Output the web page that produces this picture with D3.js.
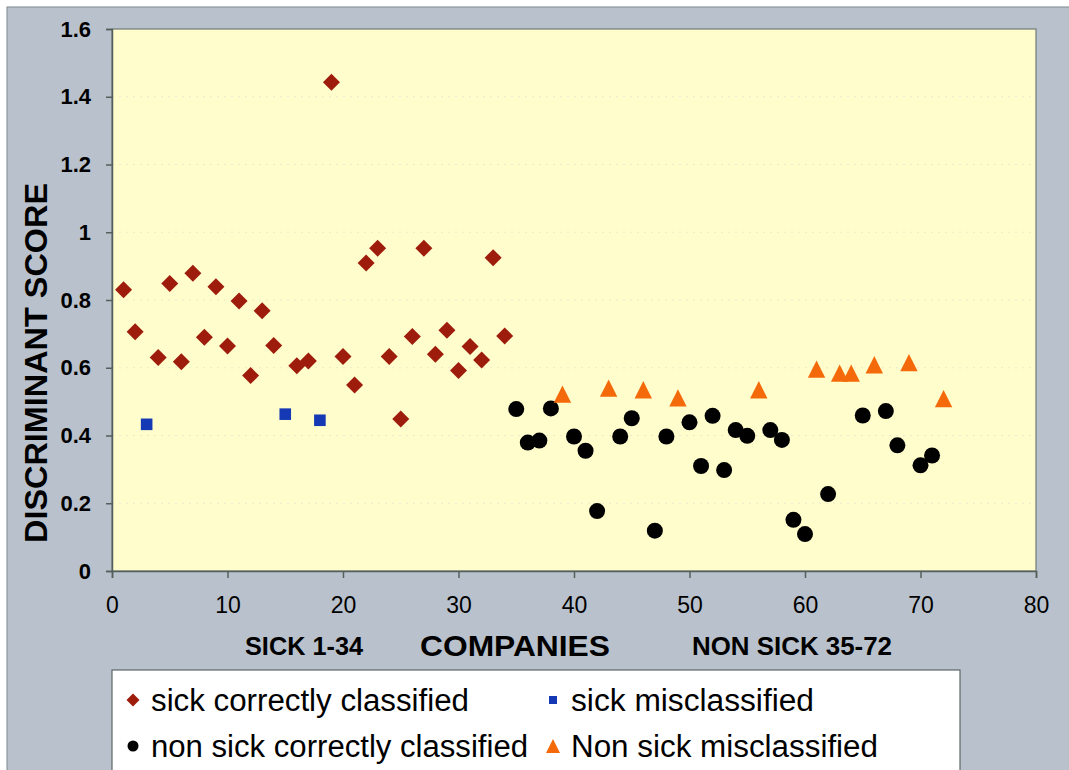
<!DOCTYPE html>
<html>
<head>
<meta charset="utf-8">
<script src="https://cdn.jsdelivr.net/npm/d3@7"></script>
<style>
  body { margin: 0; background: #ffffff; }
  text { font-family: "Liberation Sans", Arial, sans-serif; fill: #000; }
</style>
</head>
<body>
<div id="chart"></div>
<script>
var width = 1069,
    height = 770;

// sick companies 1-34
var sickCorrectCompany = [1, 2, 4, 5, 6, 7, 8, 9, 10, 11, 12, 13, 14, 16, 17, 19, 20,
                          21, 22, 23, 24, 25, 26, 27, 28, 29, 30, 31, 32, 33, 34];
var sickCorrectScore   = [0.830, 0.706, 0.630, 0.849, 0.618, 0.879, 0.690, 0.839, 0.664,
                          0.797, 0.577, 0.768, 0.666, 0.606, 0.620, 1.443, 0.633, 0.549,
                          0.909, 0.953, 0.633, 0.449, 0.692, 0.953, 0.640, 0.711, 0.592,
                          0.663, 0.623, 0.925, 0.694];
var sickMissCompany = [3, 15, 18];
var sickMissScore   = [0.433, 0.463, 0.445];

// non sick companies 35-72
var nonSickCorrectCompany = [35, 36, 37, 38, 40, 41, 42, 44, 45, 47, 48, 50, 51, 52, 53, 54,
                             55, 57, 58, 59, 60, 62, 65, 67, 68, 70, 71];
var nonSickCorrectScore   = [0.478, 0.379, 0.385, 0.480, 0.397, 0.355, 0.177, 0.397, 0.451,
                             0.119, 0.397, 0.439, 0.310, 0.458, 0.298, 0.416, 0.399, 0.416,
                             0.387, 0.151, 0.109, 0.227, 0.459, 0.472, 0.371, 0.312, 0.341];
var nonSickMissCompany = [39, 43, 46, 49, 56, 61, 63, 64, 66, 69, 72];
var nonSickMissScore   = [0.522, 0.540, 0.535, 0.511, 0.535, 0.596, 0.584, 0.584, 0.609,
                          0.615, 0.509];

var xTicks = [0, 10, 20, 30, 40, 50, 60, 70, 80];
var yTicks = [0, 0.2, 0.4, 0.6, 0.8, 1, 1.2, 1.4, 1.6];

var legendLabels = ["sick correctly classified", "sick misclassified",
                    "non sick correctly classified", "Non sick misclassified"];

var svg = d3.select("#chart").append("svg")
    .attr("width", width)
    .attr("height", height);

// grey frame
svg.append("rect")
    .attr("x", 7).attr("y", 7)
    .attr("width", width).attr("height", height)
    .attr("fill", "#b9c2cc")
    .attr("stroke", "#7d8890")
    .attr("stroke-width", 1);

var xScale = d3.scaleLinear().domain([0, 80]).range([112, 1036]);
var yScale = d3.scaleLinear().domain([0, 1.6]).range([571, 29]);

// plot area
svg.append("rect")
    .attr("x", xScale(0)).attr("y", yScale(1.6))
    .attr("width", xScale(80) - xScale(0))
    .attr("height", yScale(0) - yScale(1.6))
    .attr("fill", "#fffdcc")
    .attr("stroke", "#6f7a78")
    .attr("stroke-width", 1.2);

// faint grid lines
svg.append("g").selectAll("line")
  .data(yTicks.slice(1, -1))
  .enter().append("line")
    .attr("x1", xScale(0)).attr("x2", xScale(80))
    .attr("y1", function(d) { return yScale(d); })
    .attr("y2", function(d) { return yScale(d); })
    .attr("stroke", "#ebe9cc")
    .attr("stroke-dasharray", "2,5");

var xAxis = svg.append("g")
    .attr("transform", "translate(0," + yScale(0) + ")")
    .call(d3.axisBottom(xScale).tickValues(xTicks).tickSize(7).tickPadding(19).tickFormat(d3.format("d")));

var yAxis = svg.append("g")
    .attr("transform", "translate(" + xScale(0) + ",0)")
    .call(d3.axisLeft(yScale).tickValues(yTicks).tickSize(6).tickPadding(15)
      .tickFormat(function(d) { return d === 0 || d === 1 ? String(d) : d.toFixed(1); }));

[xAxis, yAxis].forEach(function(ax) {
  ax.select(".domain").attr("stroke", "#555f5c").attr("stroke-width", 1.5);
  ax.selectAll(".tick line").attr("stroke", "#555f5c").attr("stroke-width", 1.5);
});
xAxis.selectAll(".tick text")
    .style("font-size", "23px")
    .style("font-family", "Liberation Sans, Arial, sans-serif")
    .attr("fill", "#000");
yAxis.selectAll(".tick text")
    .style("font-size", "22px")
    .style("font-weight", "bold")
    .style("font-family", "Liberation Sans, Arial, sans-serif")
    .attr("fill", "#111");

// axis titles
svg.append("text")
    .attr("transform", "translate(47,363) rotate(-90)")
    .attr("text-anchor", "middle")
    .attr("textLength", 360)
    .attr("lengthAdjust", "spacingAndGlyphs")
    .style("font-size", "31px")
    .style("font-weight", "bold")
    .text("DISCRIMINANT SCORE");

svg.append("text")
    .attr("x", 304).attr("y", 655)
    .attr("text-anchor", "middle")
    .attr("textLength", 118)
    .attr("lengthAdjust", "spacingAndGlyphs")
    .style("font-size", "25px")
    .style("font-weight", "bold")
    .text("SICK 1-34");

svg.append("text")
    .attr("x", 515).attr("y", 656)
    .attr("text-anchor", "middle")
    .attr("textLength", 190)
    .attr("lengthAdjust", "spacingAndGlyphs")
    .style("font-size", "30px")
    .style("font-weight", "bold")
    .text("COMPANIES");

svg.append("text")
    .attr("x", 792).attr("y", 655)
    .attr("text-anchor", "middle")
    .attr("textLength", 200)
    .attr("lengthAdjust", "spacingAndGlyphs")
    .style("font-size", "25px")
    .style("font-weight", "bold")
    .text("NON SICK 35-72");

// marker shapes
function diamond(s) { return "M0," + (-s) + "L" + s + ",0L0," + s + "L" + (-s) + ",0Z"; }
function square(s) { return "M" + (-s) + "," + (-s) + "h" + (2 * s) + "v" + (2 * s) + "h" + (-2 * s) + "Z"; }
function triangle(s) { return "M0," + (-s) + "L" + s + "," + s + "L" + (-s) + "," + s + "Z"; }

function zip(xs, ys) { return xs.map(function(x, i) { return [x, ys[i]]; }); }

var marks = svg.append("g");

marks.selectAll(".sick-ok")
  .data(zip(sickCorrectCompany, sickCorrectScore))
  .enter().append("path")
    .attr("class", "sick-ok")
    .attr("d", diamond(8.5))
    .attr("transform", function(d) { return "translate(" + xScale(d[0]) + "," + yScale(d[1]) + ")"; })
    .attr("fill", "#9e1c0c");

marks.selectAll(".sick-miss")
  .data(zip(sickMissCompany, sickMissScore))
  .enter().append("path")
    .attr("class", "sick-miss")
    .attr("d", square(5.8))
    .attr("transform", function(d) { return "translate(" + xScale(d[0]) + "," + yScale(d[1]) + ")"; })
    .attr("fill", "#1539b5");

marks.selectAll(".nonsick-ok")
  .data(zip(nonSickCorrectCompany, nonSickCorrectScore))
  .enter().append("circle")
    .attr("class", "nonsick-ok")
    .attr("cx", function(d) { return xScale(d[0]); })
    .attr("cy", function(d) { return yScale(d[1]); })
    .attr("r", 8)
    .attr("fill", "#000");

marks.selectAll(".nonsick-miss")
  .data(zip(nonSickMissCompany, nonSickMissScore))
  .enter().append("path")
    .attr("class", "nonsick-miss")
    .attr("d", triangle(8.7))
    .attr("transform", function(d) { return "translate(" + xScale(d[0]) + "," + yScale(d[1]) + ")"; })
    .attr("fill", "#f46a0a");

// legend
var legend = svg.append("g");
legend.append("rect")
    .attr("x", 112).attr("y", 670)
    .attr("width", 848).attr("height", 110)
    .attr("fill", "#ffffff")
    .attr("stroke", "#5d6866")
    .attr("stroke-width", 1.2);

var legendItems = [
  {label: legendLabels[0], x: 133, y: 700, len: 318, mark: "diamond", color: "#9e1c0c"},
  {label: legendLabels[1], x: 553, y: 700, len: 243, mark: "square", color: "#1539b5"},
  {label: legendLabels[2], x: 133, y: 746, len: 377, mark: "circle", color: "#000"},
  {label: legendLabels[3], x: 553, y: 746, len: 307, mark: "triangle", color: "#f46a0a"}
];

legendItems.forEach(function(item) {
  var g = legend.append("g").attr("transform", "translate(" + item.x + "," + item.y + ")");
  if (item.mark === "circle") {
    g.append("circle").attr("r", 5.5).attr("fill", item.color);
  } else {
    var d = item.mark === "diamond" ? diamond(6.5) : item.mark === "square" ? square(4) : triangle(7);
    g.append("path").attr("d", d).attr("fill", item.color);
  }
  g.append("text")
      .attr("x", 18).attr("y", 0)
      .attr("dy", "0.35em")
      .attr("textLength", item.len)
      .attr("lengthAdjust", "spacingAndGlyphs")
      .style("font-size", "31px")
      .text(item.label);
});
</script>
</body>
</html>
